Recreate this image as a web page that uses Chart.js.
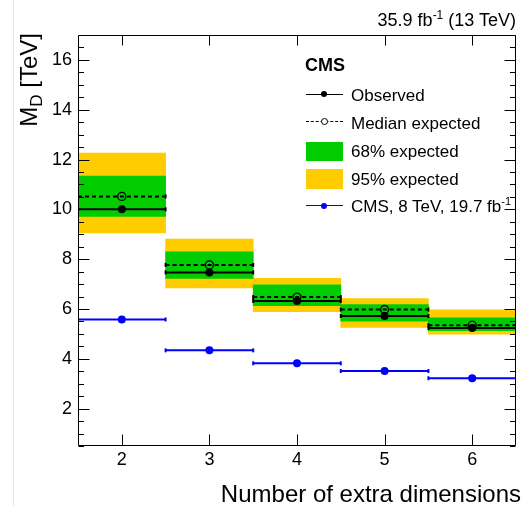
<!DOCTYPE html>
<html><head><meta charset="utf-8">
<script src="https://cdn.jsdelivr.net/npm/chart.js@4.4.1/dist/chart.umd.min.js"></script>
<style>
html,body{margin:0;padding:0;background:#fff;}
#wrap{position:relative;width:522px;height:506px;overflow:hidden;font-family:"Liberation Sans",Arial,Helvetica,sans-serif;color:#000;background:#fff;}
canvas{position:absolute;left:0;top:0;}
.t{position:absolute;white-space:nowrap;}
.edge{position:absolute;left:13px;top:0;width:1px;height:506px;background:#e6e6e6;}
.leg{font-size:17px;line-height:17px;left:351px;}
.sym{position:absolute;}
</style></head>
<body>
<div id="wrap">
<div class="edge"></div>
<canvas id="c" width="522" height="506"></canvas>
<div class="t" style="right:6px;top:10.5px;font-size:18px;line-height:18px;">35.9 fb<span style="font-size:12px;position:relative;top:-7px;">-1</span> (13 TeV)</div>
<div class="t" style="left:17px;top:233px;width:200px;text-align:right;font-size:24px;line-height:24px;transform-origin:0 0;transform:rotate(-90deg);">M<span style="font-size:17px;position:relative;top:5px;">D</span> [TeV]</div>
<div class="t" style="right:1px;top:481.5px;font-size:24px;line-height:24px;">Number of extra dimensions</div>

<div class="t" style="left:305px;top:55.5px;font-size:18px;line-height:18px;font-weight:bold;">CMS</div>

<div class="sym" style="left:306px;top:93.5px;width:37px;height:0;border-top:1.5px solid #000;"></div>
<div class="sym" style="left:321px;top:91px;width:6px;height:6px;border-radius:50%;background:#000;"></div>
<div class="t leg" style="top:87.3px;">Observed</div>

<div class="sym" style="left:306px;top:121px;width:37px;height:0;border-top:1.5px dashed #000;"></div>
<div class="sym" style="left:320.5px;top:118px;width:5px;height:5px;border-radius:50%;background:#fff;border:1px solid #000;"></div>
<div class="t leg" style="top:115px;">Median expected</div>

<div class="sym" style="left:306px;top:142px;width:37px;height:19px;background:#00cc00;"></div>
<div class="t leg" style="top:142.8px;">68% expected</div>

<div class="sym" style="left:306px;top:168.5px;width:37px;height:20px;background:#ffcc00;"></div>
<div class="t leg" style="top:170.6px;">95% expected</div>

<div class="sym" style="left:306px;top:205.3px;width:37px;height:0;border-top:1.5px solid #0000ff;"></div>
<div class="sym" style="left:321px;top:203px;width:6px;height:6px;border-radius:50%;background:#0000ff;"></div>
<div class="t leg" style="top:198.3px;">CMS, 8 TeV, 19.7 fb<span style="font-size:11px;position:relative;top:-7px;">-1</span></div>
</div>
<script>
// ---- data ----
const nDims      = [2, 3, 4, 5, 6];
const observed   = [10.00, 7.47, 6.32, 5.72, 5.24];
const expected   = [10.52, 7.77, 6.48, 5.98, 5.35];
const band68Low  = [9.72, 7.23, 6.13, 5.51, 5.13];
const band68High = [11.34, 8.30, 6.97, 6.18, 5.65];
const band95Low  = [9.05, 6.85, 5.89, 5.26, 4.99];
const band95High = [12.26, 8.81, 7.23, 6.42, 5.97];
const cms8TeV    = [5.58, 4.34, 3.82, 3.51, 3.22];
const xTickValues = [2, 3, 4, 5, 6];
const yTickLabels = [2, 4, 6, 8, 10, 12, 14, 16];

const GREEN = '#00cc00', YELLOW = '#ffcc00', BLUE = '#0000ff';

function segments(vals) {
  const pts = [];
  nDims.forEach((n, i) => {
    pts.push({x: n - 0.5, y: vals[i]}, {x: n + 0.5, y: vals[i]}, {x: n + 0.5, y: null});
  });
  return pts;
}
function markers(vals) { return nDims.map((n, i) => ({x: n, y: vals[i]})); }
function band(lo, hi) { return nDims.map((n, i) => ({x: n, y: [lo[i], hi[i]]})); }
const capRadius = ctx => (ctx.raw && ctx.raw.y != null) ? 2 : 0;

const frameTicks = {
  id: 'frameTicks',
  afterDatasetsDraw(chart) {
    const {ctx, chartArea: a, scales: {x, y}} = chart;
    const L = Math.round(a.left) + 0.5, R = Math.round(a.right) - 0.5;
    const T = Math.round(a.top) + 0.5, B = Math.round(a.bottom) - 0.5;
    ctx.save();
    ctx.strokeStyle = '#000';
    ctx.lineWidth = 1;
    ctx.beginPath();
    y.ticks.forEach(t => {
      const py = Math.round(y.getPixelForValue(t.value)) + 0.5;
      const len = yTickLabels.includes(t.value) ? 11 : 5.5;
      ctx.moveTo(L, py); ctx.lineTo(L + len, py);
      ctx.moveTo(R, py); ctx.lineTo(R - len, py);
    });
    x.ticks.forEach(t => {
      const px = Math.round(x.getPixelForValue(t.value)) + 0.5;
      ctx.moveTo(px, B); ctx.lineTo(px, B - 11);
      ctx.moveTo(px, T); ctx.lineTo(px, T + 10);
    });
    ctx.rect(L, T, R - L, B - T);
    ctx.stroke();
    ctx.restore();
  }
};

new Chart(document.getElementById('c'), {
  type: 'bar',
  data: {
    datasets: [
      {type: 'bar', data: band(band95Low, band95High), backgroundColor: YELLOW, borderWidth: 0,
       grouped: false, barPercentage: 1, categoryPercentage: 1, order: 10},
      {type: 'bar', data: band(band68Low, band68High), backgroundColor: GREEN, borderWidth: 0,
       grouped: false, barPercentage: 1, categoryPercentage: 1, order: 9},
      {type: 'line', data: segments(expected), borderColor: '#000', borderWidth: 2, borderDash: [4, 3],
       spanGaps: false, pointStyle: 'line', rotation: 90, pointRadius: capRadius, pointBorderWidth: 2,
       pointBorderColor: '#000', order: 5},
      {type: 'line', data: segments(observed), borderColor: '#000', borderWidth: 2,
       spanGaps: false, pointStyle: 'line', rotation: 90, pointRadius: capRadius, pointBorderWidth: 2,
       pointBorderColor: '#000', order: 4},
      {type: 'line', data: segments(cms8TeV), borderColor: BLUE, borderWidth: 2,
       spanGaps: false, pointStyle: 'line', rotation: 90, pointRadius: capRadius, pointBorderWidth: 2,
       pointBorderColor: BLUE, order: 3},
      {type: 'line', data: markers(expected), showLine: false, pointRadius: 4, pointBorderWidth: 1.3,
       pointBorderColor: '#000', pointBackgroundColor: 'rgba(0,0,0,0)', order: 2},
      {type: 'line', data: markers(observed), showLine: false, pointRadius: 4, pointBorderWidth: 0,
       pointBackgroundColor: '#000', order: 1},
      {type: 'line', data: markers(cms8TeV), showLine: false, pointRadius: 4, pointBorderWidth: 0,
       pointBackgroundColor: BLUE, order: 0}
    ]
  },
  options: {
    responsive: false,
    animation: false,
    devicePixelRatio: 1,
    layout: {padding: {top: 35, right: 0, bottom: 0, left: 0}},
    plugins: {legend: {display: false}, tooltip: {enabled: false}},
    scales: {
      x: {
        type: 'linear', min: 1.5, max: 6.5, offset: false,
        grid: {display: false, drawTicks: false}, border: {display: false},
        afterBuildTicks: s => { s.ticks = xTickValues.map(v => ({value: v})); },
        afterFit: s => { s.height = 60; },
        ticks: {color: '#000', padding: 3, font: {family: 'Liberation Sans', size: 18},
                callback: v => String(v)}
      },
      y: {
        type: 'linear', min: 0.5, max: 17,
        grid: {display: false, drawTicks: false}, border: {display: false},
        afterFit: s => { s.width = 78; },
        ticks: {stepSize: 0.5, maxTicksLimit: 1000, autoSkip: false, color: '#000', padding: 6,
                font: {family: 'Liberation Sans', size: 18},
                callback: v => yTickLabels.includes(v) ? String(v) : ''}
      }
    }
  },
  plugins: [frameTicks]
});
</script>
</body></html>
